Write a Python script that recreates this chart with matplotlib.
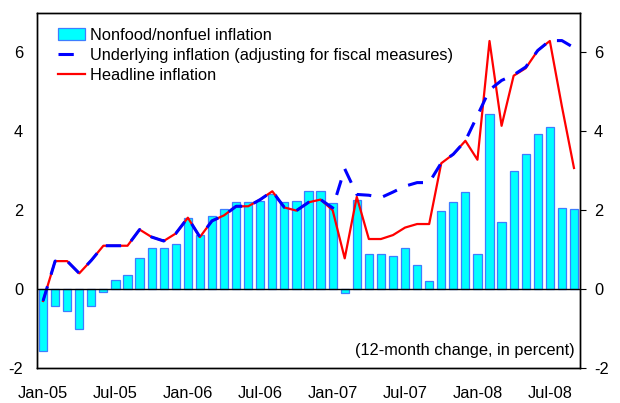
import numpy as np
import matplotlib
matplotlib.use('Agg')
import matplotlib.pyplot as plt

plt.rcParams['font.family'] = ['Liberation Sans', 'DejaVu Sans']
plt.rcParams['axes.unicode_minus'] = False

# monthly data, Jan-05 .. Sep-08
months = ['Jan-05', 'Feb-05', 'Mar-05', 'Apr-05', 'May-05', 'Jun-05',
          'Jul-05', 'Aug-05', 'Sep-05', 'Oct-05', 'Nov-05', 'Dec-05',
          'Jan-06', 'Feb-06', 'Mar-06', 'Apr-06', 'May-06', 'Jun-06',
          'Jul-06', 'Aug-06', 'Sep-06', 'Oct-06', 'Nov-06', 'Dec-06',
          'Jan-07', 'Feb-07', 'Mar-07', 'Apr-07', 'May-07', 'Jun-07',
          'Jul-07', 'Aug-07', 'Sep-07', 'Oct-07', 'Nov-07', 'Dec-07',
          'Jan-08', 'Feb-08', 'Mar-08', 'Apr-08', 'May-08', 'Jun-08',
          'Jul-08', 'Aug-08', 'Sep-08']

nonfood = [-1.58, -0.43, -0.55, -1.0, -0.43, -0.07,
           0.23, 0.35, 0.78, 1.04, 1.04, 1.15,
           1.80, 1.36, 1.85, 2.02, 2.20, 2.20,
           2.24, 2.42, 2.20, 2.24, 2.49, 2.49,
           2.19, -0.11, 2.27, 0.88, 0.88, 0.84,
           1.03, 0.62, 0.21, 1.98, 2.22, 2.45,
           0.88, 4.45, 1.70, 3.0, 3.43, 3.94,
           4.11, 2.06, 2.04]

headline = [-0.30, 0.71, 0.71, 0.40, 0.73, 1.10,
            1.10, 1.10, 1.51, 1.32, 1.22, 1.41,
            1.81, 1.32, 1.73, 1.87, 2.10, 2.10,
            2.27, 2.48, 2.07, 1.99, 2.20, 2.27,
            2.0, 0.78, 2.34, 1.27, 1.27, 1.37,
            1.56, 1.65, 1.65, 3.19, 3.42, 3.76,
            3.28, 6.29, 4.14, 5.41, 5.60, 6.05,
            6.29, 4.63, 3.07]

underlying = [-0.30, 0.71, 0.71, 0.40, 0.73, 1.10,
              1.10, 1.10, 1.51, 1.32, 1.22, 1.41,
              1.81, 1.32, 1.73, 1.87, 2.10, 2.10,
              2.27, 2.48, 2.07, 1.99, 2.20, 2.27,
              2.06, 3.05, 2.40, 2.38, 2.32, 2.46,
              2.61, 2.70, 2.70, 3.20, 3.42, 3.76,
              4.40, 5.05, 5.29, 5.43, 5.63, 6.05,
              6.30, 6.30, 6.12]

tick_labels = ['Jan-05', 'Jul-05', 'Jan-06', 'Jul-06', 'Jan-07', 'Jul-07', 'Jan-08', 'Jul-08']

x = np.arange(len(months))
fs = 11.8

fig = plt.figure(figsize=(6.2, 4.03), dpi=100)
ax = fig.add_axes([0.0597, 0.0868, 0.8758, 0.881])

ax.bar(x, nonfood, width=0.68, color='#00FFFF', edgecolor='#3D7DFF', linewidth=0.9,
       label='Nonfood/nonfuel inflation', zorder=2)
ax.plot(x, headline, color='#FF0000', linewidth=1.6, label='Headline inflation', zorder=3)
ax.plot(x, underlying, color='#0000FF', linewidth=2.2, dashes=(5, 4),
        label='Underlying inflation (adjusting for fiscal measures)', zorder=4)
ax.axhline(0, color='black', linewidth=1.0, zorder=5)

ax.set_xlim(-0.5, len(months) - 0.5)
ax.set_ylim(-2, 7)
ax.set_yticks([-2, 0, 2, 4, 6])
ax.set_xticks([months.index(t) for t in tick_labels])
ax.set_xticklabels(tick_labels)
ax.tick_params(axis='x', length=0, pad=13, labelsize=fs)
ax.tick_params(axis='y', length=0, pad=10, labelsize=fs)

ax2 = ax.twinx()
ax2.set_ylim(-2, 7)
ax2.set_yticks([-2, 0, 2, 4, 6])
ax2.tick_params(axis='y', direction='out', length=4, pad=6, labelsize=fs)

for a in (ax, ax2):
    for s in a.spines.values():
        s.set_linewidth(1.0)

handles, labels = ax.get_legend_handles_labels()
order = [labels.index('Nonfood/nonfuel inflation'),
         labels.index('Underlying inflation (adjusting for fiscal measures)'),
         labels.index('Headline inflation')]
ax.legend([handles[i] for i in order], [labels[i] for i in order], loc='upper left',
          bbox_to_anchor=(0.012, 1.0), frameon=False, fontsize=fs,
          handlelength=1.65, handletextpad=0.28,
          labelspacing=0.3, borderaxespad=0.5, borderpad=0.4)

ax.text(0.99, 0.049, '(12-month change, in percent)', transform=ax.transAxes,
        ha='right', va='center', fontsize=fs)

fig.savefig('out.png', dpi=100)
